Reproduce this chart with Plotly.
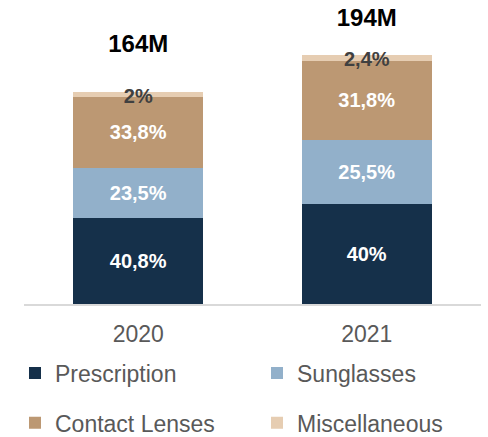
import plotly.graph_objects as go

# Market size by year, split into product shares (in %)
years = ["2020", "2021"]
totals_m = [164, 194]  # total market, millions
prescription = [40.8, 40.0]
sunglasses = [23.5, 25.5]
contact_lenses = [33.8, 31.8]
miscellaneous = [2.0, 2.4]

series = [
    ("Prescription", prescription, "#15304A", "legend"),
    ("Sunglasses", sunglasses, "#92B0CA", "legend"),
    ("Contact Lenses", contact_lenses, "#BC9873", "legend2"),
    ("Miscellaneous", miscellaneous, "#E6CDB2", "legend2"),
]

FONT = "Liberation Sans, Arial, sans-serif"


def pct_label(v):
    return f"{v:g}".replace(".", ",") + "%"


def scaled(shares):
    # segment height = share of that year's total
    return [t * s / 100 for t, s in zip(totals_m, shares)]


fig = go.Figure()
for name, shares, color, leg in series:
    is_small = name == "Miscellaneous"
    fig.add_trace(go.Bar(
        x=years,
        y=scaled(shares),
        name=name,
        legend=leg,
        marker=dict(color=color, line=dict(width=0)),
        width=0.57,
        text=[pct_label(v) for v in shares],
        textposition="none" if is_small else "inside",
        insidetextanchor="middle",
        textfont=dict(family=FONT, size=20, color="white", weight="bold"),
        hoverinfo="skip",
    ))

# stack heights
lower = [sum(v) for v in zip(*(scaled(s) for s in (prescription, sunglasses, contact_lenses)))]
misc_h = scaled(miscellaneous)
tops = [a + b for a, b in zip(lower, misc_h)]

# small share label over the thin top segment
fig.add_trace(go.Scatter(
    x=years,
    y=[a + b / 2 - 2.5 for a, b in zip(lower, misc_h)],
    mode="text",
    text=[f"<b>{pct_label(v)}</b>" for v in miscellaneous],
    textposition="middle center",
    textfont=dict(family=FONT, size=20, color="#404040"),
    showlegend=False, hoverinfo="skip", cliponaxis=False,
))

# year totals above each stack (gap in millions)
total_gap = [36, 27]
fig.add_trace(go.Scatter(
    x=years,
    y=[t + g for t, g in zip(tops, total_gap)],
    mode="text",
    text=[f"<b>{t}M</b>" for t in totals_m],
    textposition="middle center",
    textfont=dict(family=FONT, size=24, color="#000000"),
    showlegend=False, hoverinfo="skip", cliponaxis=False,
))

legend_style = dict(
    orientation="h",
    traceorder="normal",
    x=-0.0197, xanchor="left",
    yanchor="middle",
    font=dict(family=FONT, size=23, color="#595959"),
    entrywidthmode="pixels",
    entrywidth=197,
    bgcolor="rgba(0,0,0,0)",
    itemclick=False,
    itemdoubleclick=False,
)

fig.update_layout(
    width=488,
    height=437,
    margin=dict(l=24, r=7, t=0, b=133, autoexpand=False),
    barmode="stack",
    plot_bgcolor="white",
    paper_bgcolor="white",
    showlegend=True,
    legend=dict(legend_style, y=-0.227),
    legend2=dict(legend_style, y=-0.391),
    uniformtext=dict(minsize=20, mode="show"),
    xaxis=dict(
        type="category",
        range=[-0.5, 1.5],
        showline=True, linecolor="#D9D9D9", linewidth=2,
        ticks="", showgrid=False,
        tickfont=dict(family=FONT, size=23, color="#595959"),
        ticklabelstandoff=8,
    ),
    yaxis=dict(
        range=[0, 235.7],
        showticklabels=False, showgrid=False, zeroline=False, showline=False,
        ticks="",
    ),
)

fig.write_html("out.html")
